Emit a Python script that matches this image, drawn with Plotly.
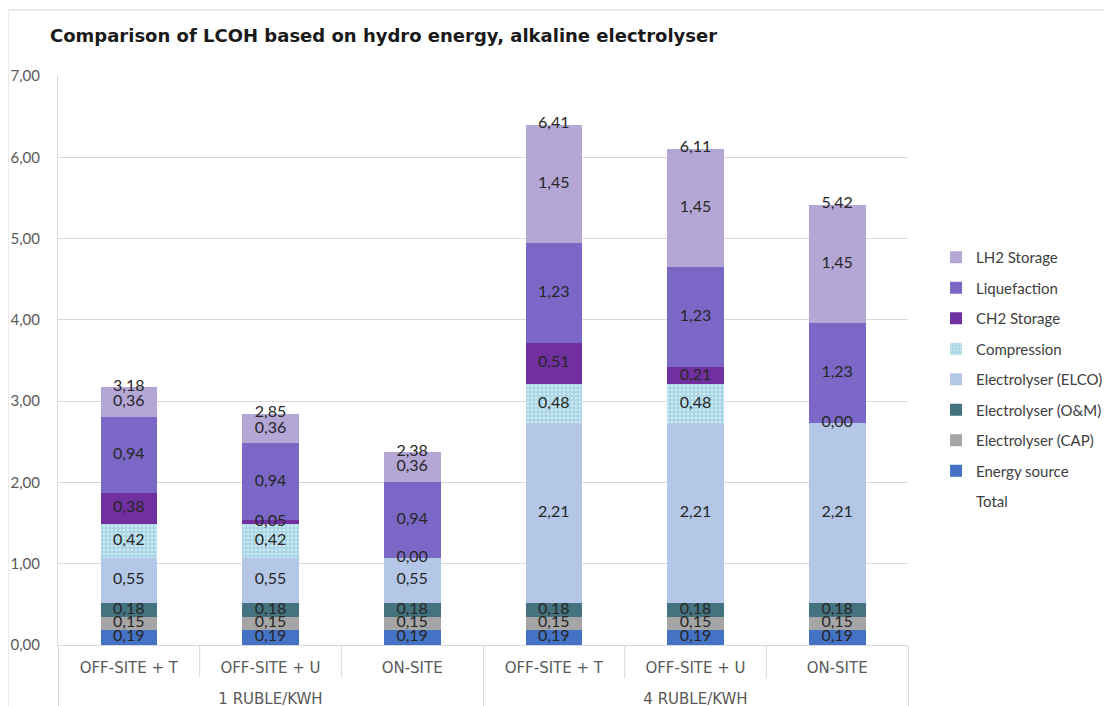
import plotly.graph_objects as go

groups = ["1 RUBLE/KWH"] * 3 + ["4 RUBLE/KWH"] * 3
scenarios = ["OFF-SITE + T", "OFF-SITE + U", "ON-SITE", "OFF-SITE + T", "OFF-SITE + U", "ON-SITE"]

energy_source = [0.19, 0.19, 0.19, 0.19, 0.19, 0.19]
electrolyser_cap = [0.15, 0.15, 0.15, 0.15, 0.15, 0.15]
electrolyser_om = [0.18, 0.18, 0.18, 0.18, 0.18, 0.18]
electrolyser_elco = [0.55, 0.55, 0.55, 2.21, 2.21, 2.21]
compression = [0.42, 0.42, 0.00, 0.48, 0.48, 0.00]
ch2_storage = [0.38, 0.05, None, 0.51, 0.21, None]
liquefaction = [0.94, 0.94, 0.94, 1.23, 1.23, 1.23]
lh2_storage = [0.36, 0.36, 0.36, 1.45, 1.45, 1.45]
total = [3.18, 2.85, 2.38, 6.41, 6.11, 5.42]

series = [
    ("Energy source", energy_source, "#4472C4", False),
    ("Electrolyser (CAP)", electrolyser_cap, "#A5A5A5", False),
    ("Electrolyser (O&M)", electrolyser_om, "#44727E", False),
    ("Electrolyser (ELCO)", electrolyser_elco, "#B4C7E7", False),
    ("Compression", compression, "#A9D6E6", True),
    ("CH2 Storage", ch2_storage, "#7030A0", False),
    ("Liquefaction", liquefaction, "#7B68C6", False),
    ("LH2 Storage", lh2_storage, "#B4A7D6", False),
]

FONT = "Lato"
LABEL_COLOR = "#262626"
# outer-level labels get a leading line break to sit lower, as in the reference
group_labels = ["<br>" + g for g in groups]
x = [group_labels, scenarios]


def fmt(v):
    return f"{v:.2f}".replace(".", ",")


fig = go.Figure()
n = len(series)

# legend-only entry for Total
fig.add_trace(go.Bar(
    name="Total", x=x, y=[None] * 6,
    marker=dict(color="rgba(0,0,0,0)", line=dict(width=0, color="rgba(0,0,0,0)")),
    legendgroup="Total", legendrank=n + 1,
))

for i, (name, vals, color, pat) in enumerate(series):
    marker = dict(color=color, line=dict(width=0))
    if pat:
        marker["pattern"] = dict(shape=".", fgcolor="#FFFFFF", bgcolor=color,
                                 size=4, solidity=0.3)
    fig.add_trace(go.Bar(
        name=name, x=x, y=vals, marker=marker, legendgroup=name,
        legendrank=n - i, hoverinfo="name+y",
    ))

# segment labels drawn on top of all bars, at the middle of each segment
base = [0.0] * 6
lab_x0, lab_x1, lab_y, lab_t = [], [], [], []
for name, vals, color, pat in series:
    for j, v in enumerate(vals):
        if v is None:
            continue
        lab_x0.append(group_labels[j])
        lab_x1.append(scenarios[j])
        lab_y.append(base[j] + v / 2)
        lab_t.append(fmt(v))
        base[j] += v

fig.add_trace(go.Scatter(
    x=[lab_x0, lab_x1], y=lab_y, mode="text", text=lab_t,
    textposition="middle center",
    textfont=dict(family=FONT, size=16, color=LABEL_COLOR),
    showlegend=False, hoverinfo="skip",
))

fig.add_trace(go.Scatter(
    x=x, y=total, mode="text",
    text=[fmt(v) for v in total],
    textposition="middle center",
    textfont=dict(family=FONT, size=16, color=LABEL_COLOR),
    showlegend=False, hoverinfo="skip",
))

shapes = []
# chart border
shapes.append(dict(type="rect", xref="paper", yref="paper",
                   x0=-0.0588, x1=1.238, y0=-0.2, y1=1.116,
                   line=dict(color="#D9D9D9", width=1), fillcolor="rgba(0,0,0,0)", layer="below"))
# inner category separators
for b in [0.5, 1.5, 3.5, 4.5]:
    shapes.append(dict(type="line", xref="x", yref="paper", x0=b, x1=b, y0=0, y1=-0.058,
                       line=dict(color="#D9D9D9", width=1)))

fig.update_layout(
    barmode="stack",
    bargap=0.6,
    width=1113, height=706,
    margin=dict(l=50, r=213, t=68, b=69),
    paper_bgcolor="white", plot_bgcolor="white",
    separators=", ",
    font=dict(family=FONT, color="#595959"),
    title=dict(text="<b>Comparison of LCOH based on hydro energy, alkaline electrolyser</b>",
               x=42 / 1113, xanchor="left", xref="container",
               y=1 - 28 / 706, yanchor="middle", yref="container",
               font=dict(family="DejaVu Sans", size=18, color="#1a1a1a")),
    legend=dict(traceorder="grouped", tracegroupgap=8,
                x=1.033, xanchor="left", y=0.71, yanchor="top",
                font=dict(family=FONT, size=15, color="#404040"),
                bgcolor="rgba(0,0,0,0)"),
    shapes=shapes,
)

fig.update_yaxes(range=[0, 7], dtick=1, tickformat=".2f",
                 showgrid=True, gridcolor="#D9D9D9", gridwidth=1,
                 zeroline=False, showline=True, linecolor="#D9D9D9",
                 ticks="", ticklabelstandoff=14, automargin=False,
                 tickfont=dict(family=FONT, size=15, color="#595959"))
fig.update_xaxes(type="multicategory", showline=True, linecolor="#D9D9D9",
                 showdividers=True, dividercolor="#D9D9D9", dividerwidth=1,
                 ticks="", ticklabelstandoff=9, automargin=False,
                 tickfont=dict(family="DejaVu Sans", size=15, color="#595959"))

fig.write_html("out.html")
